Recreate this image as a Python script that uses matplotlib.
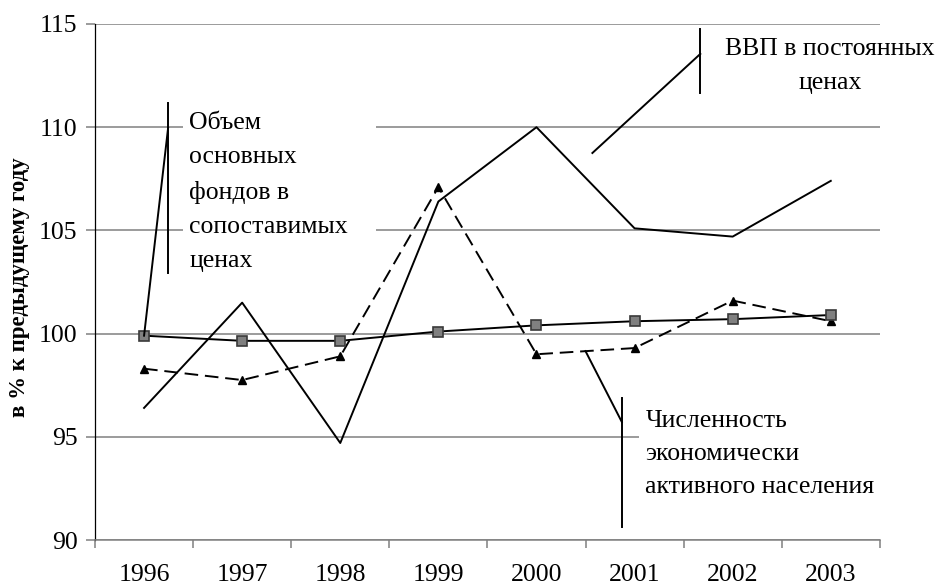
import matplotlib
matplotlib.use("Agg")
import matplotlib.pyplot as plt
from matplotlib.patches import Rectangle

plt.rcParams['font.family'] = ['Liberation Serif', 'DejaVu Serif']

годы = ["1996", "1997", "1998", "1999", "2000", "2001", "2002", "2003"]
ввп = [96.4, 101.5, 94.7, 106.4, 110.0, 105.1, 104.7, 107.4]
фонды = [99.9, 99.65, 99.65, 100.1, 100.4, 100.6, 100.7, 100.9]
численность = [98.3, 97.75, 98.9, 107.1, 99.0, 99.3, 101.6, 100.6]

x = list(range(len(годы)))

fig = plt.figure(figsize=(9.36, 5.88), dpi=100)
ax = fig.add_axes([0.1015, 0.0816, 0.8385, 0.8776])

серый = "#808080"

# линии рядов
ax.plot(x, ввп, color="black", lw=1.4, zorder=3)
ax.plot(x, численность, color="black", lw=1.4, ls=(0, (7, 3.5)),
        marker="^", ms=5.5, mfc="black", mec="black", zorder=3)
ax.plot(x, фонды, color="black", lw=1.4, marker="s", ms=7.5,
        mfc=серый, mec="#3a3a3a", mew=1.2, zorder=4)

ax.set_xlim(-0.5, 7.5)
ax.set_ylim(90, 115)
ax.set_yticks([90, 95, 100, 105, 110, 115])
ax.set_xticks(x)
ax.set_xticklabels(годы)
ax.set_xticks([i - 0.5 for i in range(len(годы) + 1)], minor=True)

ax.grid(axis="y", color=серый, lw=1.1)
ax.set_axisbelow(True)

for s in ["top", "right"]:
    ax.spines[s].set_visible(False)
ax.spines["left"].set_color("black")
ax.spines["left"].set_linewidth(0.9)
ax.spines["bottom"].set_color(серый)
ax.spines["bottom"].set_linewidth(1.1)

ax.tick_params(axis="x", which="major", length=0, pad=17, labelsize=18.5)
ax.tick_params(axis="x", which="minor", length=5.5, color=серый, width=1.1, direction="out")
ax.tick_params(axis="y", length=6.5, color=серый, width=1.1, pad=6, labelsize=18.5)

ax.set_ylabel("в % к предыдущему году", fontsize=16.5, fontweight="bold")
ax.yaxis.set_label_coords(-0.083, 0.49)

# белые подложки под подписи
ax.add_patch(Rectangle((0.40, 102.5), 1.965, 9.0, facecolor="white", edgecolor="none", zorder=1))
ax.add_patch(Rectangle((5.04, 91.0), 2.6, 6.0, facecolor="white", edgecolor="none", zorder=1,
                       clip_on=False))

# выноски
выноска = dict(color="black", lw=1.4, zorder=5, clip_on=False)
ax.plot([0.245, 0.245], [111.17, 102.94], **выноска)
ax.plot([0.245, 0], [109.96, фонды[0]], **выноска)
ax.plot([5.67, 5.67], [114.76, 111.66], **выноска)
ax.plot([5.67, 4.57], [113.55, 108.75], **выноска)
ax.plot([4.87, 4.87], [96.88, 90.63], **выноска)
ax.plot([4.87, 4.5], [95.72, (численность[4] + численность[5]) / 2], **выноска)

ax.text(0.46, 106.86, "Объем\nосновных\nфондов в\nсопоставимых\nценах", fontsize=18.5,
        ha="left", va="center", linespacing=1.7, zorder=6)
ax.text(6.99, 112.97, "ВВП в постоянных\nценах", fontsize=18.5, ha="center", va="center",
        multialignment="center", linespacing=1.75, zorder=6, clip_on=False)
ax.text(5.11, 94.17, "Численность\nэкономически\nактивного населения", fontsize=18.5,
        ha="left", va="center", linespacing=1.65, zorder=6, clip_on=False)

plt.savefig("out.png", dpi=100)
